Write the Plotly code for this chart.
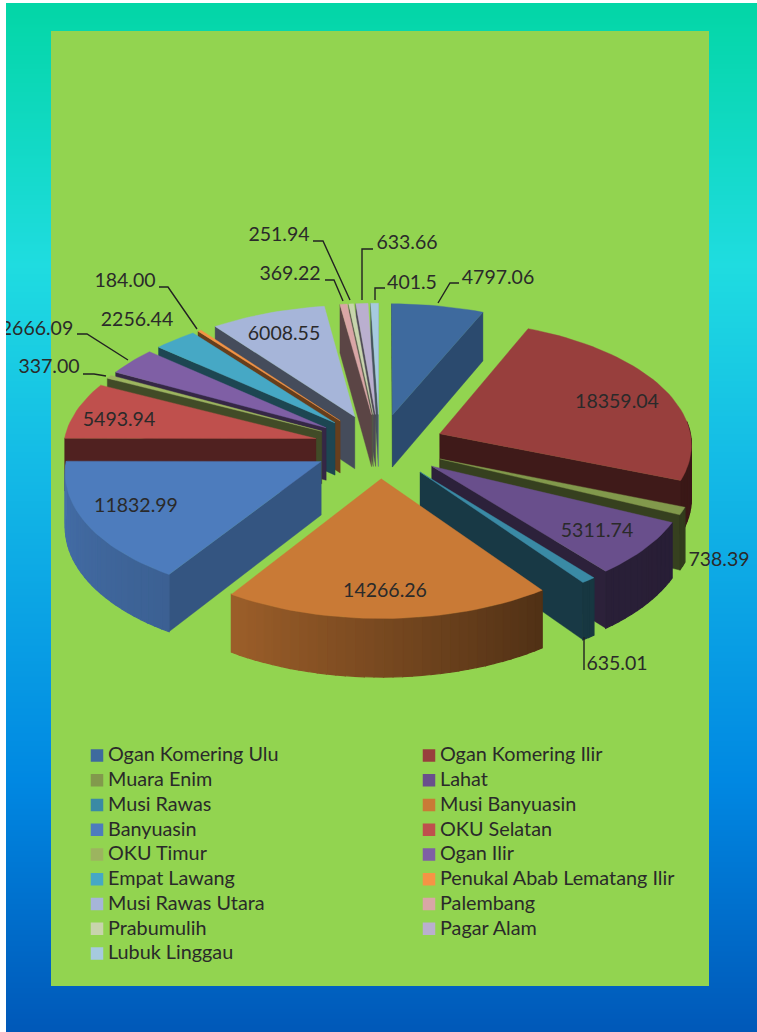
import numpy as np
import plotly.graph_objects as go

# ---------- data ----------
regions = ["Ogan Komering Ulu", "Ogan Komering Ilir", "Muara Enim", "Lahat", "Musi Rawas",
           "Musi Banyuasin", "Banyuasin", "OKU Selatan", "OKU Timur", "Ogan Ilir",
           "Empat Lawang", "Penukal Abab Lematang Ilir", "Musi Rawas Utara", "Palembang",
           "Prabumulih", "Pagar Alam", "Lubuk Linggau"]
values = [4797.06, 18359.04, 738.39, 5311.74, 635.01, 14266.26, 11832.99, 5493.94, 337.00,
          2666.09, 2256.44, 184.00, 6008.55, 369.22, 251.94, 633.66, 401.5]
value_labels = ["4797.06", "18359.04", "738.39", "5311.74", "635.01", "14266.26", "11832.99",
                "5493.94", "337.00", "2666.09", "2256.44", "184.00", "6008.55", "369.22",
                "251.94", "633.66", "401.5"]
colors = ["#3E6A9E", "#983F3D", "#82994C", "#694F8C", "#3A8AA5", "#C97A36", "#4D7CBD", "#BF504D",
          "#9CB45F", "#7F5FA5", "#46A8C5", "#F59445", "#A6B5D9", "#D9A6A6", "#C8D4AD", "#BAAFCF",
          "#A6CADF"]

# ---------- layout constants (pixels of the page) ----------
W, H = 757, 1032
CX, CY, RX, RY = 379.5, 446, 252.5, 124  # pie centre and radii
EXPLODE, PERSP, DEPTH = 0.26, 0.075, 53  # slice pull, perspective, pie thickness
label_x = [498, 617, 719, 597, 617, 385, 136, 119, 49, 37, 137, 125, 284, 290, 279, 407, 412]
label_y = [279.5, 403, 561, 532, 665.5, 592.5, 507, 421.5, 368, 330.5, 321, 282, 335, 275, 236, 244, 284]
leaders = {0: [(438, 303), (450, 283), (459, 283)], 15: [(362, 300), (362, 249), (373, 249)],
           16: [(375, 300), (375, 288), (385, 288)], 14: [(350, 300), (323, 241), (313, 241)],
           13: [(343, 301), (334, 280), (325, 280)], 11: [(197, 329), (168, 287), (159, 287)],
           9: [(128, 360), (87, 334), (77, 334)], 8: [(106, 376), (94, 374), (83, 374)],
           4: [(584, 637), (584, 670)]}
grad_y = [3, 265, 460, 780, 1032]
grad_c = ["#03D6A6", "#1FDCE0", "#14BBE6", "#0088E2", "#0058B8"]
TEXT = "#2A2A2A"
FONT = "Lato"
LABEL_SIZE, LEGEND_SIZE = 19.5, 19.8


def rgb(c):
    return np.array([int(c[i:i + 2], 16) for i in (1, 3, 5)], float)


def shade(c, f):
    r = np.clip(rgb(c) * f, 0, 255).astype(int)
    return f"rgb({r[0]},{r[1]},{r[2]})"


def project(u, v):
    d = 1 - PERSP * v
    return CX + RX * u / d, CY + RY * v / d, DEPTH / d


fig = go.Figure()

# background gradient and panel
ys = np.arange(3, 1033, 3)
scale_pts = np.interp(grad_y, [3, 1032], [0, 1])
fig.add_trace(go.Heatmap(x=[6, 757], y=ys, z=[[y, y] for y in ys], zmin=3, zmax=1032, zsmooth="best",
                         showscale=False, hoverinfo="skip",
                         colorscale=[[float(p), c] for p, c in zip(scale_pts, grad_c)]))
fig.add_trace(go.Scatter(x=[51, 709, 709, 51, 51], y=[31, 31, 986, 986, 31], mode="lines", fill="toself",
                         fillcolor="#92D450", line=dict(width=0), hoverinfo="skip", showlegend=False))


def poly(xs, ys, color, lw=0.4):
    fig.add_trace(go.Scatter(x=list(xs) + [xs[0]], y=list(ys) + [ys[0]], mode="lines", fill="toself",
                             fillcolor=color, line=dict(color=color, width=lw),
                             hoverinfo="skip", showlegend=False))


# slices: angles run clockwise from the top
total = sum(values)
edges = np.concatenate([[0], np.cumsum(values)]) / total * 360
slices = []
for i, val in enumerate(values):
    a0, a1 = edges[i], edges[i + 1]
    slices.append((i, a0, a1, (a0 + a1) / 2))
slices.sort(key=lambda s: -np.cos(np.radians(s[3])))

for i, a0, a1, bis in slices:
    col = colors[i]
    ou = EXPLODE * np.sin(np.radians(bis))
    ov = -EXPLODE * np.cos(np.radians(bis))
    n = max(2, int((a1 - a0) / 2) + 2)
    th = np.linspace(a0, a1, n)
    tu = ou + np.sin(np.radians(th))
    tv = ov - np.cos(np.radians(th))
    ax, ay, ad = project(ou, ov)
    rx_, ry_, rd = project(tu, tv)

    # radial walls that face the viewer
    for k, normal in ((0, (a0 - 90) % 360), (-1, (a1 + 90) % 360)):
        if 90 <= normal <= 270:
            f = float(np.interp(normal, [120, 180], [0.7, 0.42]))
            poly([ax, rx_[k], rx_[k], ax], [ay, ry_[k], ry_[k] + rd[k], ay + ad], shade(col, f))
    # outer rim, only the part that faces the viewer
    for j in range(n - 1):
        mid = (th[j] + th[j + 1]) / 2
        if 85 < mid < 270:
            f = float(np.interp(mid, [100, 144, 213, 270], [0.38, 0.40, 0.78, 0.9]))
            poly([rx_[j], rx_[j + 1], rx_[j + 1], rx_[j]],
                 [ry_[j], ry_[j + 1], ry_[j + 1] + rd[j + 1], ry_[j] + rd[j]], shade(col, f), 1.2)
    # top face
    poly([ax] + list(rx_), [ay] + list(ry_), col)

# leader lines
for pts in leaders.values():
    fig.add_trace(go.Scatter(x=[p[0] for p in pts], y=[p[1] for p in pts], mode="lines",
                             line=dict(color="#222222", width=1.4), hoverinfo="skip", showlegend=False))

# value labels (clipped by the plot area, like the reference)
fig.add_trace(go.Scatter(x=label_x, y=label_y, mode="text", text=value_labels, textposition="middle center",
                         textfont=dict(family=FONT, size=LABEL_SIZE, color=TEXT), cliponaxis=True,
                         hoverinfo="skip", showlegend=False))

# legend in two columns, filled row by row
leg_col_x = [97, 429]
leg_text_x = [108, 440]
leg_y0, leg_dy = 755.5, 24.75
sy = [leg_y0 + leg_dy * (i // 2) for i in range(len(regions))]
fig.add_trace(go.Scatter(x=[leg_col_x[i % 2] for i in range(len(regions))], y=sy, mode="markers",
                         marker=dict(symbol="square", size=12.5, color=colors, line=dict(width=0)),
                         hoverinfo="skip", showlegend=False))
fig.add_trace(go.Scatter(x=[leg_text_x[i % 2] for i in range(len(regions))], y=[y + 1 for y in sy], mode="text",
                         text=regions, textposition="middle right",
                         textfont=dict(family=FONT, size=LEGEND_SIZE, color=TEXT),
                         hoverinfo="skip", showlegend=False))

fig.update_layout(width=W, height=H, margin=dict(l=6, r=0, t=3, b=0), paper_bgcolor="white",
                  plot_bgcolor="white", showlegend=False,
                  xaxis=dict(range=[6, 757], visible=False, fixedrange=True),
                  yaxis=dict(range=[1032, 3], visible=False, fixedrange=True))
fig.write_html("out.html", config={"displayModeBar": False},
               post_script="document.body.style.margin='0';document.documentElement.style.overflow='hidden';")
